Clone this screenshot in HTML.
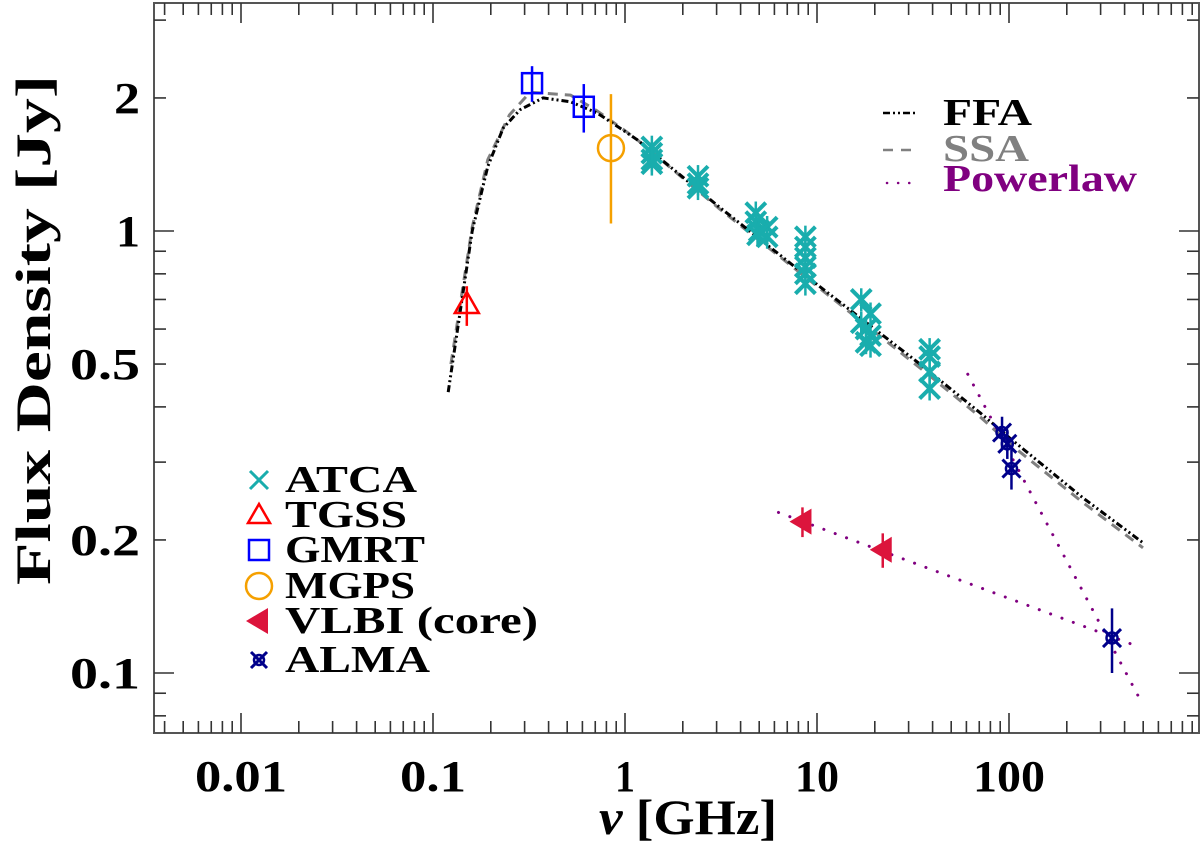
<!DOCTYPE html>
<html><head><meta charset="utf-8">
<style>
html,body{margin:0;padding:0;background:#fff;}
svg{display:block;font-family:"Liberation Serif",serif;}
</style></head>
<body>
<svg id="chart" width="1200" height="843" viewBox="0 0 1200 843" xmlns="http://www.w3.org/2000/svg">
  <rect x="154" y="3" width="1045" height="730" fill="none" stroke="#555" stroke-width="2"/>
  <g id="ticks"></g>
  <g id="curves"></g>
  <g id="points"></g>
  <text x="688" y="834" font-size="50" text-anchor="middle" font-weight="bold" textLength="178" lengthAdjust="spacingAndGlyphs"><tspan font-style="italic">ν</tspan> [GHz]</text>
  <text transform="translate(50,330) rotate(-90)" font-size="50" text-anchor="middle" font-weight="bold" textLength="510" lengthAdjust="spacingAndGlyphs">Flux Density [Jy]</text>
  <g font-size="38" font-weight="bold">
    <line x1="883" y1="113" x2="915" y2="113" stroke="#000" stroke-width="2.5" stroke-dasharray="7 3 2 3 2 3"/>
    <text x="943" y="125" fill="#000" textLength="89" lengthAdjust="spacingAndGlyphs">FFA</text>
    <line x1="883" y1="150" x2="915" y2="150" stroke="#808080" stroke-width="2.5" stroke-dasharray="10 8"/>
    <text x="943" y="161" fill="#808080" textLength="86" lengthAdjust="spacingAndGlyphs">SSA</text>
    <line x1="887" y1="183" x2="915" y2="183" stroke="#800080" stroke-width="2.5" stroke-linecap="round" stroke-dasharray="0.1 11"/>
    <text x="943" y="191" fill="#800080" textLength="194" lengthAdjust="spacingAndGlyphs">Powerlaw</text>
  </g>
  <g id="dlegend" font-size="38" font-weight="bold"></g>
</svg>
<script>
// ---- data ----
const xTickValues = [0.01, 0.1, 1, 10, 100];
const xTickLabels = ["0.01", "0.1", "1", "10", "100"];
const yTickValues = [0.1, 0.2, 0.5, 1, 2];
const yTickLabels = ["0.1", "0.2", "0.5", "1", "2"];

const atcaFreq = [1.38,1.38,1.38,1.38, 2.4,2.4,2.4, 4.8,4.8,5.0,5.5,5.5,4.9, 8.7,8.7,8.7,8.7,8.7,8.7, 17,17,18,19,19,18,19, 38.6,38.6,38.6,38.6];
const atcaFlux = [1.55,1.5,1.45,1.42, 1.33,1.28,1.25, 1.1,1.05,1.0,1.02,0.97,0.98, 0.97,0.92,0.87,0.83,0.8,0.76, 0.7,0.62,0.6,0.58,0.65,0.56,0.55, 0.54,0.52,0.48,0.44];
const tgssFreq = [0.150], tgssFlux = [0.68], tgssErr = [0.07];
const gmrtFreq = [0.328, 0.61], gmrtFlux = [2.16, 1.91], gmrtErr = [0.2, 0.24];
const mgpsFreq = [0.845], mgpsFlux = [1.54], mgpsErr = [0.5];
const vlbiFreq = [8.4, 22], vlbiFlux = [0.22, 0.19], vlbiErr = [0.017, 0.017];
const almaFreq = [92, 98, 103, 344], almaFlux = [0.35, 0.33, 0.29, 0.12], almaErr = [0.03, 0.025, 0.03, 0.02];

const ffaFreq = [0.12,0.16,0.193,0.232,0.284,0.374,0.52,0.715,0.94,1.155,3.12,10.4,34.4,70.6,101,243,499];
const ffaFlux = [0.432,1.0,1.40,1.71,1.88,2.0,1.96,1.85,1.71,1.61,1.13,0.747,0.50,0.388,0.34,0.249,0.197];
const ssaFreq = [0.124,0.16,0.193,0.25,0.32,0.52,0.715,0.94,1.155,3.12,10.4,34.4,70.6,101,243,499];
const ssaFlux = [0.50,1.02,1.45,1.83,2.06,2.03,1.87,1.72,1.61,1.12,0.74,0.49,0.38,0.33,0.243,0.192];

const plNorm = [13.8, 0.311];     // flux at 1 GHz
const plIndex = [-0.82, -0.162];
const plFmin = [61, 6.3];
const plFmax = [493, 470];

// label widths (layout only)
const xLabelW = {"0.01":92, "0.1":66, "1":20, "10":44, "100":72};
const yLabelW = {"0.1":70, "0.2":70, "0.5":70, "1":24, "2":26};

// ---- axes ----
const X = f => 625 + 192 * Math.log10(f);
const Y = v => 231 - 442 * Math.log10(v);
const NS = "http://www.w3.org/2000/svg";
function mk(tag, attrs, parent) {
  const e = document.createElementNS(NS, tag);
  for (const k in attrs) e.setAttribute(k, attrs[k]);
  parent.appendChild(e); return e;
}
const ticks = document.getElementById('ticks');
const L = 154, R = 1199, T = 3, B = 733;
for (let d = -3; d <= 2; d++) {
  for (let m = 1; m <= 9; m++) {
    const f = m * Math.pow(10, d);
    const x = X(f);
    if (x <= L + 1 || x >= R - 1) continue;
    const len = m === 1 ? 20 : 12;
    const t1 = mk('line', {x1:x, y1:B, x2:x, y2:B-len, stroke:'#333', 'stroke-width':1.6}, ticks);
    
    
    const t2 = mk('line', {x1:x, y1:T, x2:x, y2:T+len, stroke:'#333', 'stroke-width':1.6}, ticks);
    
    
  }
}
xTickValues.forEach((v, i) => {
  const t = mk('text', {x:X(v), y:791, 'font-size':44, 'font-weight':'bold', 'text-anchor':'middle', textLength:xLabelW[xTickLabels[i]], lengthAdjust:'spacingAndGlyphs'}, ticks);
  t.textContent = xTickLabels[i];
  
  
});
for (let d = -2; d <= 0; d++) {
  for (let m = 1; m <= 9; m++) {
    const v = m * Math.pow(10, d);
    const y = Y(v);
    if (y <= T + 1 || y >= B - 1) continue;
    const len = m === 1 ? 20 : 12;
    const t1 = mk('line', {x1:L, y1:y, x2:L+len, y2:y, stroke:'#333', 'stroke-width':1.6}, ticks);
    
    
    const t2 = mk('line', {x1:R, y1:y, x2:R-len, y2:y, stroke:'#333', 'stroke-width':1.6}, ticks);
    
    
  }
}
yTickValues.forEach((v, i) => {
  const w = yLabelW[yTickLabels[i]];
  const t = mk('text', {x:140 - w, y:Y(v)+15, 'font-size':44, 'font-weight':'bold', textLength:w, lengthAdjust:'spacingAndGlyphs'}, ticks);
  t.textContent = yTickLabels[i];
  
  
});

// ---- curves ----
const curves = document.getElementById('curves');
function pathFrom(fa, sa) { return fa.map((f, i) => (i ? 'L' : 'M') + X(f).toFixed(1) + ' ' + Y(sa[i]).toFixed(1)).join(' '); }
const ssa = mk('path', {d:pathFrom(ssaFreq, ssaFlux), fill:'none', stroke:'#808080', 'stroke-width':3, 'stroke-dasharray':'10 7', 'stroke-linejoin':'round'}, curves);


const ffa = mk('path', {d:pathFrom(ffaFreq, ffaFlux), fill:'none', stroke:'#000', 'stroke-width':3, 'stroke-dasharray':'7 3 2 3 2 3', 'stroke-linejoin':'round'}, curves);


plNorm.forEach((n, i) => {
  const s1 = n * Math.pow(plFmin[i], plIndex[i]);
  const s2 = n * Math.pow(plFmax[i], plIndex[i]);
  const pl = mk('line', {x1:X(plFmin[i]), y1:Y(s1), x2:X(plFmax[i]), y2:Y(s2), stroke:'#800080', 'stroke-width':3, 'stroke-linecap':'round', 'stroke-dasharray':'0.1 12'}, curves);
  
  
});

// ---- markers ----
const pts = document.getElementById('points');
function errbar(g, x, v, e, col) {
  const l = mk('line', {x1:x, y1:Y(v+e), x2:x, y2:Y(Math.max(v-e, 0.01)), stroke:col, 'stroke-width':2.5}, g);
  
  
}
function cross(g, x, y, s, col, w) {
  mk('path', {d:`M${x-s} ${y-s}L${x+s} ${y+s}M${x-s} ${y+s}L${x+s} ${y-s}`, stroke:col, 'stroke-width':w, fill:'none'}, g);
}
const ATCA = '#19adad';
atcaFreq.forEach((f, i) => {
  const g = mk('g', {}, pts);
  
  
  errbar(g, X(f), atcaFlux[i], atcaFlux[i]*0.06, ATCA);
  cross(g, X(f), Y(atcaFlux[i]), 10, ATCA, 4);
});
tgssFreq.forEach((f, i) => {
  const g = mk('g', {}, pts);
  
  
  const x = X(f), y = Y(tgssFlux[i]);
  errbar(g, x, tgssFlux[i], tgssErr[i], '#f00');
  mk('path', {d:`M${x} ${y-13}L${x+12} ${y+8}L${x-12} ${y+8}Z`, fill:'none', stroke:'#f00', 'stroke-width':2.5}, g);
});
gmrtFreq.forEach((f, i) => {
  const g = mk('g', {}, pts);
  
  
  const x = X(f), y = Y(gmrtFlux[i]);
  errbar(g, x, gmrtFlux[i], gmrtErr[i], '#00f');
  mk('rect', {x:x-10, y:y-10, width:20, height:20, fill:'none', stroke:'#00f', 'stroke-width':2.5}, g);
});
mgpsFreq.forEach((f, i) => {
  const g = mk('g', {}, pts);
  
  
  const x = X(f), y = Y(mgpsFlux[i]);
  errbar(g, x, mgpsFlux[i], mgpsErr[i], '#f5a000');
  mk('circle', {cx:x, cy:y, r:13, fill:'none', stroke:'#f5a000', 'stroke-width':2.5}, g);
});
vlbiFreq.forEach((f, i) => {
  const g = mk('g', {}, pts);
  
  
  const x = X(f), y = Y(vlbiFlux[i]);
  errbar(g, x, vlbiFlux[i], vlbiErr[i], '#dc143c');
  mk('path', {d:`M${x-13} ${y}L${x+9} ${y-13}L${x+9} ${y+13}Z`, fill:'#dc143c'}, g);
});
almaFreq.forEach((f, i) => {
  const g = mk('g', {}, pts);
  
  
  const x = X(f), y = Y(almaFlux[i]);
  errbar(g, x, almaFlux[i], almaErr[i], '#00008b');
  cross(g, x, y, 9, '#00008b', 3);
  mk('circle', {cx:x, cy:y, r:5.5, fill:'none', stroke:'#00008b', 'stroke-width':2.5}, g);
});

// ---- data legend ----
const dl = document.getElementById('dlegend');
const legNames = ["ATCA", "TGSS", "GMRT", "MGPS", "VLBI (core)", "ALMA"];
const legW = [132, 122, 140, 130, 253, 145];
const legY = [492, 527, 562, 598, 633, 672];
legNames.forEach((n, i) => {
  const g = mk('g', {}, dl);
  
  
  const cx = 259, cy = legY[i] - 12;
  if (i === 0) cross(g, cx, cy, 9, ATCA, 3);
  if (i === 1) mk('path', {d:`M${cx} ${cy-11}L${cx+11} ${cy+8}L${cx-11} ${cy+8}Z`, fill:'none', stroke:'#f00', 'stroke-width':2.5}, g);
  if (i === 2) mk('rect', {x:cx-10, y:cy-10, width:20, height:20, fill:'none', stroke:'#00f', 'stroke-width':2.5}, g);
  if (i === 3) mk('circle', {cx:cx, cy:cy, r:13, fill:'none', stroke:'#f5a000', 'stroke-width':2.5}, g);
  if (i === 4) mk('path', {d:`M${cx-13} ${cy}L${cx+9} ${cy-13}L${cx+9} ${cy+13}Z`, fill:'#dc143c'}, g);
  if (i === 5) { cross(g, cx, cy, 8, '#00008b', 3); mk('circle', {cx:cx, cy:cy, r:5, fill:'none', stroke:'#00008b', 'stroke-width':2.5}, g); }
  const t = mk('text', {x:285, y:legY[i], textLength:legW[i], lengthAdjust:'spacingAndGlyphs'}, g);
  t.textContent = n;
});
</script>
</body></html>
